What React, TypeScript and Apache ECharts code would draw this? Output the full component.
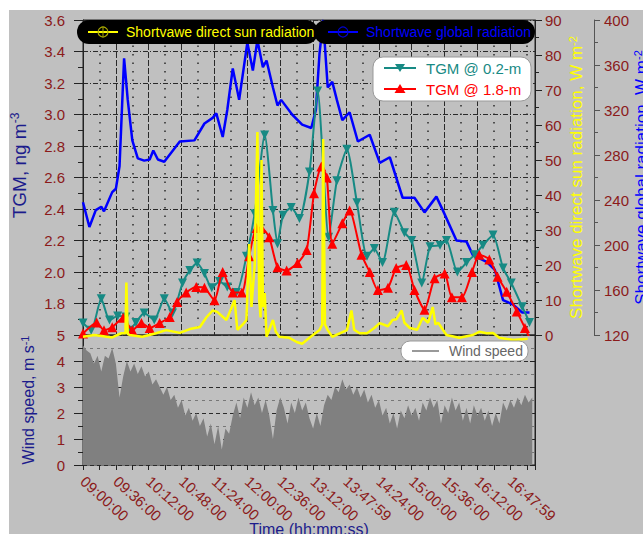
import React, { useEffect, useRef } from 'react';
import * as echarts from 'echarts';

// minutes after 09:00
const timeTicks = [0, 36, 72, 108, 144, 180, 216, 252, 288, 324, 360, 396, 432, 468];
const timeLabels = ['09:00:00', '09:36:00', '10:12:00', '10:48:00', '11:24:00', '12:00:00', '12:36:00',
  '13:12:00', '13:47:59', '14:24:00', '15:00:00', '15:36:00', '16:12:00', '16:47:59'];

// TGM @ 0.2-m  [minute, ng m-3]
const tgm02 = [[0,1.676],[9,1.63],[20,1.83],[29,1.695],[38,1.72],[47,1.715],[51,1.63],[58,1.68],[67,1.74],[78,1.695],
  [89,1.83],[98,1.74],[109,1.93],[117,2.01],[125,2.057],[133,1.99],[141,1.90],[149.5,1.94],[158,1.905],[168,1.87],
  [179,2.10],[188,2.37],[199,2.87],[208,2.39],[213,2.18],[219,2.36],[228,2.41],[237,2.34],[248,2.635],[257,3.15],
  [269,2.22],[278,2.58],[289,2.78],[300,2.44],[311,2.10],[319,2.15],[328,2.06],[341,2.38],[352,2.25],[360,2.20],
  [371,1.93],[380,2.16],[391,2.17],[398,2.20],[410,2.00],[420,2.06],[429,2.11],[438,2.17],[449,2.235],[460,2.025],
  [469,1.93],[481,1.78],[489,1.68]];

// TGM @ 1.8-m
const tgm18 = [[0,1.61],[15,1.68],[23,1.63],[32,1.65],[44,1.71],[54,1.63],[64,1.676],[73,1.645],[84,1.676],[95,1.715],
  [103,1.81],[113,1.87],[124,1.905],[133,1.90],[144,1.82],[153,2.00],[164,1.87],[174,1.87],[182,2.10],[190,2.28],
  [195.5,2.28],[204,2.22],[213,2.03],[223,2.01],[235,2.057],[245,2.14],[253,2.50],[261,2.67],[267,2.60],[273,2.18],
  [284,2.31],[292,2.39],[305,2.11],[314,2.00],[323,1.885],[334,1.90],[343,2.025],[354,2.045],[363,1.885],[374,1.76],
  [385,1.96],[396,1.99],[404,1.84],[415,1.84],[426,2.00],[434,2.11],[445,2.08],[454,1.97],[464,1.875],[475,1.75],
  [484,1.645],[489,1.58]];

// Shortwave direct sun radiation, W m-2
const sunDirect = [[0,-0.5],[12.5,0],[32,-0.7],[42,0.5],[46.5,0.5],[47.5,15],[49,0.3],[51,0],[65,-0.5],[80,0.5],
  [91,1.4],[106,0.6],[117,1.7],[128,2.3],[135,5],[142,7],[147,6.6],[157,4.3],[163,8],[166,10],[169,1.5],[175,3],
  [179,4.3],[180,12],[182,26],[184.5,8],[188,20],[191,58],[193,10],[194.5,5],[195.5,50],[197,8],[199,12],[201,-0.5],
  [208,4.3],[211,1],[215,-0.5],[226,-0.8],[234,-2],[240,-2.5],[248,-0.8],[259,1.4],[262,3],[263,56],[265,3],
  [268,1.4],[273,-0.5],[289,1.4],[294,7],[297,1.5],[303,0.5],[311,0.5],[319,2],[325,3.4],[334,2.5],[339,4.3],
  [343,4.5],[349,7],[352,3.5],[358,2],[366,1.5],[372,4.9],[378,3.5],[383,8],[386,3],[389,3.5],[398,0],[412,-0.8],
  [427,0],[434,0.9],[442,0.5],[449,0.6],[456,-0.8],[471,-1.4],[487,-1.1]];

// Shortwave global radiation, W m-2
const sunGlobal = [[0,238],[7,216],[14,231],[20,234],[23,230],[32,247],[36,250],[40,270],[45,366],[49,329],[54,293],
  [60,277],[67,275],[73,276],[77,284],[82,276],[89,274],[106,292],[122,293],[133,308],[142,313],[146,317],[153,296],
  [158,320],[164,357],[171,329],[180,380],[186,355],[191,382],[197,358],[201,364],[208,340],[213,324],[217,329],
  [229,316],[240,307],[250,304],[255,320],[259,370],[263,400],[268,340],[273,345],[278,329],[284,311],[292,318],
  [301,292],[314,298],[325,273],[336,278],[350,242],[363,242],[374,229],[387,243],[394,231],[409,204],[420,203],
  [427,191],[442,185],[451,178],[460,151],[471,147],[481,140],[489,140]];

// Wind speed, m s-1, one value every 4 minutes from 09:00
const windStep = 4;
const windSpeed = [4.6,4.4,4.3,3.9,4.2,3.6,4.2,4.1,4.5,3.9,2.6,3.4,4.0,3.6,3.9,3.5,3.8,3.4,3.6,3.1,
  3.3,3.0,2.7,3.0,2.5,2.7,2.2,2.5,1.9,2.2,1.7,2.0,1.5,1.8,1.1,1.6,0.8,1.5,0.6,1.4,
  1.2,1.9,2.4,1.8,2.6,2.2,2.8,2.3,2.6,2.0,2.5,1.9,1.0,2.1,2.6,2.2,1.6,2.4,2.0,2.6,
  2.1,2.4,1.8,1.4,2.0,1.5,2.3,2.7,2.5,3.0,2.8,3.3,2.9,3.1,2.7,3.0,2.6,2.9,2.4,2.7,
  2.2,2.5,1.9,2.2,1.6,2.0,1.4,2.1,1.8,2.3,1.9,2.2,1.7,2.4,2.1,2.6,2.2,2.5,1.6,2.3,
  2.0,2.6,2.1,2.4,1.7,2.2,1.6,2.3,1.9,2.2,1.7,2.1,1.5,2.0,1.6,2.4,2.1,2.5,2.2,2.6,
  2.3,2.7,2.4,2.6];

const FONT = 'Liberation Sans, Arial, Helvetica, sans-serif';
const TICK_RED = '#8b1a1a';
const NAVY = '#1c1c8c';
const TEAL = '#178a84';
const BG = '#c0c0c0';

export default function App() {
  const ref = useRef<HTMLDivElement>(null);
  useEffect(() => {
    document.body.style.margin = '0';
    const chart = echarts.init(ref.current!, undefined, { renderer: 'svg' });
    const windData = windSpeed.map((v, i) => [i * windStep, v]);
    const labelStyle = { color: TICK_RED, fontSize: 15, fontFamily: FONT };
    const majorDash = { color: '#2a2a2a', width: 1, type: [5, 2, 1, 2] as any };
    const option: any = {
      animation: false,
      backgroundColor: BG,
      textStyle: { fontFamily: FONT },
      grid: [
        { left: 83, top: 20, width: 452, height: 315, show: true, borderColor: '#222', borderWidth: 1, backgroundColor: 'transparent', containLabel: false, outerBoundsMode: 'none' },
        { left: 83, top: 335, width: 452, height: 130, show: true, borderColor: '#222', borderWidth: 1, backgroundColor: 'transparent', containLabel: false, outerBoundsMode: 'none' },
      ],
      xAxis: [
        {
          gridIndex: 0, type: 'value', min: 0, max: 495, interval: 36,
          axisLine: { show: false }, axisTick: { show: false }, axisLabel: { show: false },
          splitLine: { show: true, lineStyle: { color: '#2a2a2a', width: 1, type: [6, 2] } },
          minorTick: { show: false, splitNumber: 2 },
          minorSplitLine: { show: true, lineStyle: { color: '#2a2a2a', width: 1.5, type: [1.5, 7] } },
        },
        {
          gridIndex: 1, type: 'value', min: 0, max: 495, interval: 36, position: 'bottom', offset: 4,
          axisLine: { show: false },
          axisTick: { show: true, length: 5, lineStyle: { color: '#222' } },
          minorTick: { show: true, splitNumber: 2, length: 5, lineStyle: { color: '#222' } },
          splitLine: { show: false },
          axisLabel: {
            ...labelStyle, rotate: -42, margin: 10,
            formatter: (v: number) => { const i = timeTicks.indexOf(Math.round(v)); return i >= 0 ? timeLabels[i] : ''; },
          },
          name: 'Time (hh:mm:ss)', nameLocation: 'middle', nameGap: 52, nameMoveOverlap: false,
          nameTextStyle: { color: NAVY, fontSize: 16, fontFamily: FONT },
        },
      ],
      yAxis: [
        {
          gridIndex: 0, type: 'value', position: 'left', offset: 7, min: 1.6, max: 3.6, interval: 0.2,
          axisLine: { show: true, lineStyle: { color: '#222' } },
          axisTick: { show: true, length: 9, lineStyle: { color: '#222' } },
          minorTick: { show: true, splitNumber: 2, length: 5, lineStyle: { color: '#222' } },
          axisLabel: { ...labelStyle, margin: 11, formatter: (v: number) => (v < 1.7 ? '' : v.toFixed(1)) },
          splitLine: { show: true, lineStyle: majorDash },
          name: 'TGM, ng m{sup|-3}', nameLocation: 'middle', nameGap: 46, nameMoveOverlap: false,
          nameTextStyle: { color: NAVY, fontSize: 19, fontFamily: FONT, padding: [0, 0, 0, 24],
            rich: { sup: { fontSize: 12, color: NAVY, verticalAlign: 'top', padding: [0, 0, 9, 0] } } },
        },
        {
          gridIndex: 0, type: 'value', position: 'right', offset: 0, min: 0, max: 90, interval: 10,
          axisLine: { show: true, lineStyle: { color: '#222' } },
          axisTick: { show: true, length: 7, lineStyle: { color: '#222' } },
          minorTick: { show: true, splitNumber: 2, length: 4, lineStyle: { color: '#222' } },
          axisLabel: { ...labelStyle, margin: 10 },
          splitLine: { show: false },
          name: 'Shortwave direct sun radiation, W m{sup|-2}', nameLocation: 'middle', nameGap: 32, nameMoveOverlap: false,
          nameTextStyle: { color: '#ffff00', fontSize: 17, fontFamily: FONT,
            rich: { sup: { fontSize: 11, color: '#ffff00', verticalAlign: 'top', padding: [0, 0, 8, 0] } } },
        },
        {
          gridIndex: 0, type: 'value', position: 'right', offset: 59, min: 120, max: 400, interval: 40,
          axisLine: { show: true, lineStyle: { color: '#555' } },
          axisTick: { show: true, length: 6, lineStyle: { color: '#555' } },
          minorTick: { show: true, splitNumber: 2, length: 4, lineStyle: { color: '#555' } },
          axisLabel: { ...labelStyle, margin: 10 },
          splitLine: { show: false },
          name: 'Shortwave global radiation, W m{sup|-2}', nameLocation: 'middle', nameGap: 38, nameMoveOverlap: false,
          nameTextStyle: { color: '#0000ff', fontSize: 17, fontFamily: FONT,
            rich: { sup: { fontSize: 11, color: '#0000ff', verticalAlign: 'top', padding: [0, 0, 8, 0] } } },
        },
        {
          gridIndex: 1, type: 'value', position: 'left', offset: 7, min: 0, max: 5, interval: 1,
          axisLine: { show: true, lineStyle: { color: '#222' } },
          axisTick: { show: true, length: 9, lineStyle: { color: '#222' } },
          minorTick: { show: true, splitNumber: 2, length: 5, lineStyle: { color: '#222' } },
          axisLabel: { ...labelStyle, margin: 11 },
          splitLine: { show: true, lineStyle: { color: '#2a2a2a', width: 1, type: [4, 3] } },
          minorSplitLine: { show: true, lineStyle: { color: '#777', width: 1, type: [3, 4] } },
          name: 'Wind speed, m s{sup|-1}', nameLocation: 'middle', nameGap: 38, nameMoveOverlap: false,
          nameTextStyle: { color: NAVY, fontSize: 16, fontFamily: FONT,
            rich: { sup: { fontSize: 11, color: NAVY, verticalAlign: 'top', padding: [0, 0, 8, 0] } } },
        },
        {
          gridIndex: 1, type: 'value', position: 'right', offset: 0, min: 0, max: 5, interval: 1,
          axisLine: { show: true, lineStyle: { color: '#222' } },
          axisTick: { show: true, inside: true, length: 5, lineStyle: { color: '#222' } },
          axisLabel: { show: false }, splitLine: { show: false },
        },
      ],
      series: [
        {
          type: 'line', name: 'Wind speed', xAxisIndex: 1, yAxisIndex: 3, data: windData,
          showSymbol: false, lineStyle: { width: 0 }, areaStyle: { color: '#808080', opacity: 1 },
          itemStyle: { color: '#808080' }, z: 1,
        },
        {
          type: 'line', name: 'Shortwave global radiation', xAxisIndex: 0, yAxisIndex: 2, data: sunGlobal,
          showSymbol: false, lineStyle: { color: '#0000ff', width: 2.5 }, itemStyle: { color: '#0000ff' }, z: 2,
        },
        {
          type: 'line', name: 'TGM @ 0.2-m', xAxisIndex: 0, yAxisIndex: 0, data: tgm02, smooth: 0.2,
          symbol: 'triangle', symbolRotate: 180, symbolSize: 9,
          lineStyle: { color: TEAL, width: 2 }, itemStyle: { color: TEAL }, z: 3,
        },
        {
          type: 'line', name: 'TGM @ 1.8-m', xAxisIndex: 0, yAxisIndex: 0, data: tgm18, smooth: 0.2,
          symbol: 'triangle', symbolSize: 10,
          lineStyle: { color: '#ff0000', width: 2 }, itemStyle: { color: '#ff0000' }, z: 4,
        },
        {
          type: 'line', name: 'Shortvawe direct sun radiation', xAxisIndex: 0, yAxisIndex: 1, data: sunDirect,
          showSymbol: false, clip: false, lineStyle: { color: '#ffff00', width: 2.5 }, itemStyle: { color: '#ffff00' }, z: 5,
        },
      ],
      graphic: {
        elements: [
          { type: 'rect', shape: { x: 0, y: 0, width: 643, height: 10 }, style: { fill: '#fff' }, z: 100, silent: true },
          { type: 'rect', shape: { x: 0, y: 0, width: 9, height: 534 }, style: { fill: '#fff' }, z: 100, silent: true },
          // legend: direct sun radiation
          { type: 'rect', shape: { x: 77, y: 20, width: 241, height: 24, r: 12 }, style: { fill: '#000' }, z: 100 },
          { type: 'line', shape: { x1: 88, y1: 32, x2: 118, y2: 32 }, style: { stroke: '#ffff00', lineWidth: 2 }, z: 101 },
          { type: 'circle', shape: { cx: 103, cy: 32, r: 5 }, style: { fill: 'none', stroke: '#aaaa00', lineWidth: 1.2 }, z: 101 },
          { type: 'line', shape: { x1: 103, y1: 27, x2: 103, y2: 37 }, style: { stroke: '#aaaa00', lineWidth: 1 }, z: 101 },
          { type: 'text', x: 126, y: 32, style: { text: 'Shortvawe direct sun radiation', fill: '#ffff00', font: `14px ${FONT}`, textVerticalAlign: 'middle', verticalAlign: 'middle' }, z: 101 },
          // legend: global radiation
          { type: 'rect', shape: { x: 314, y: 20, width: 221, height: 24, r: 12 }, style: { fill: '#000' }, z: 100 },
          { type: 'line', shape: { x1: 328, y1: 32, x2: 358, y2: 32 }, style: { stroke: '#0000ff', lineWidth: 2 }, z: 101 },
          { type: 'circle', shape: { cx: 343, cy: 32, r: 5 }, style: { fill: 'none', stroke: '#0000cc', lineWidth: 1.2 }, z: 101 },
          { type: 'text', x: 366, y: 32, style: { text: 'Shortwave global radiation', fill: '#0000ff', font: `14px ${FONT}`, textVerticalAlign: 'middle', verticalAlign: 'middle' }, z: 101 },
          // legend: TGM
          { type: 'rect', shape: { x: 373, y: 57, width: 158, height: 44, r: 10 }, style: { fill: '#fff', stroke: '#999', lineWidth: 1 }, z: 100 },
          { type: 'line', shape: { x1: 384, y1: 68, x2: 416, y2: 68 }, style: { stroke: TEAL, lineWidth: 2 }, z: 101 },
          { type: 'polygon', shape: { points: [[395, 64], [405, 64], [400, 72]] }, style: { fill: TEAL }, z: 101 },
          { type: 'text', x: 426, y: 68, style: { text: 'TGM @ 0.2-m', fill: TEAL, font: `15px ${FONT}`, textVerticalAlign: 'middle', verticalAlign: 'middle' }, z: 101 },
          { type: 'line', shape: { x1: 384, y1: 89, x2: 416, y2: 89 }, style: { stroke: '#ff0000', lineWidth: 2 }, z: 101 },
          { type: 'polygon', shape: { points: [[400, 84], [405.5, 93], [394.5, 93]] }, style: { fill: '#ff0000' }, z: 101 },
          { type: 'text', x: 426, y: 89, style: { text: 'TGM @ 1.8-m', fill: '#ff0000', font: `15px ${FONT}`, textVerticalAlign: 'middle', verticalAlign: 'middle' }, z: 101 },
          // legend: wind speed
          { type: 'rect', shape: { x: 401, y: 341, width: 127, height: 20, r: 9 }, style: { fill: '#fff', stroke: '#999', lineWidth: 1 }, z: 100 },
          { type: 'line', shape: { x1: 412, y1: 351, x2: 439, y2: 351 }, style: { stroke: '#777', lineWidth: 1.5 }, z: 101 },
          { type: 'text', x: 449, y: 351, style: { text: 'Wind speed', fill: '#666', font: `14px ${FONT}`, textVerticalAlign: 'middle', verticalAlign: 'middle' }, z: 101 },
        ],
      },
    };
    chart.setOption(option);
    return () => chart.dispose();
  }, []);
  return <div ref={ref} style={{ width: 643, height: 534 }} />;
}
